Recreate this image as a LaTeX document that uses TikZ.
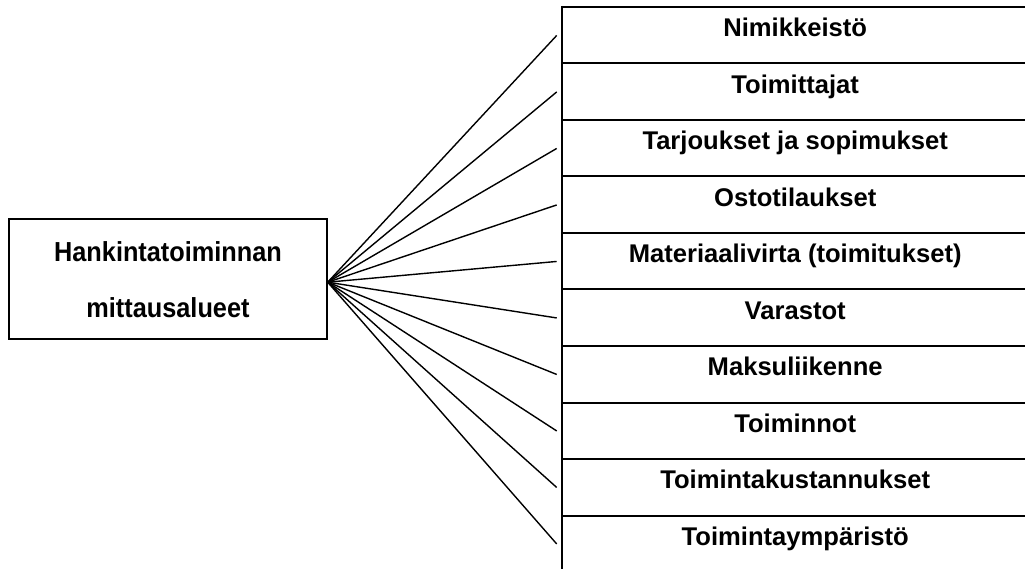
\documentclass[tikz,border=0pt]{standalone}
\usepackage{fontspec}
\setmainfont{Liberation Sans}
\newfontfamily\condsans[FakeStretch=0.92]{Liberation Sans}
\begin{document}
\begin{tikzpicture}[x=1pt,y=-1pt,
  mainbox/.style={draw,line width=2pt,minimum width=317.4pt,minimum height=120.3pt,
    inner sep=0pt,align=center,font=\condsans\bfseries\fontsize{27.5}{56}\selectfont},
  rowbox/.style={minimum width=466.6pt,minimum height=56.5pt,inner sep=0pt,anchor=north west},
  rowtext/.style={anchor=base,inner sep=0pt,font=\bfseries\fontsize{25.6}{30}\selectfont},
  rule/.style={line width=2pt},
  conn/.style={line width=1.4pt}]
\useasboundingbox (0,0) rectangle (1025,569);

% source box
\node[mainbox] (hb) at (168,279.2) {Hankintatoiminnan\\mittausalueet};
\coordinate (hub) at ([yshift=-3pt]hb.east);

% column of measurement areas
\foreach \i/\t in {1/Nimikkeistö,2/Toimittajat,3/Tarjoukset ja sopimukset,
  4/Ostotilaukset,5/Materiaalivirta (toimitukset),6/Varastot,7/Maksuliikenne,
  8/Toiminnot,9/Toimintakustannukset,10/Toimintaympäristö}{
  \node[rowbox] (r\i) at (561.7,{7+(\i-1)*56.5}) {};
  \node[rowtext] (t\i) at ([yshift=-1.5pt]r\i.center) {\t};
  \draw[rule] (r\i.north west) -- (r\i.north east);
  \draw[conn] (hub) -- ([xshift=-5pt]r\i.west);
}
\coordinate (colend) at (561.7,569);
\draw[rule] ([yshift=1pt]r1.north west) -- (colend);
\end{tikzpicture}
\end{document}
